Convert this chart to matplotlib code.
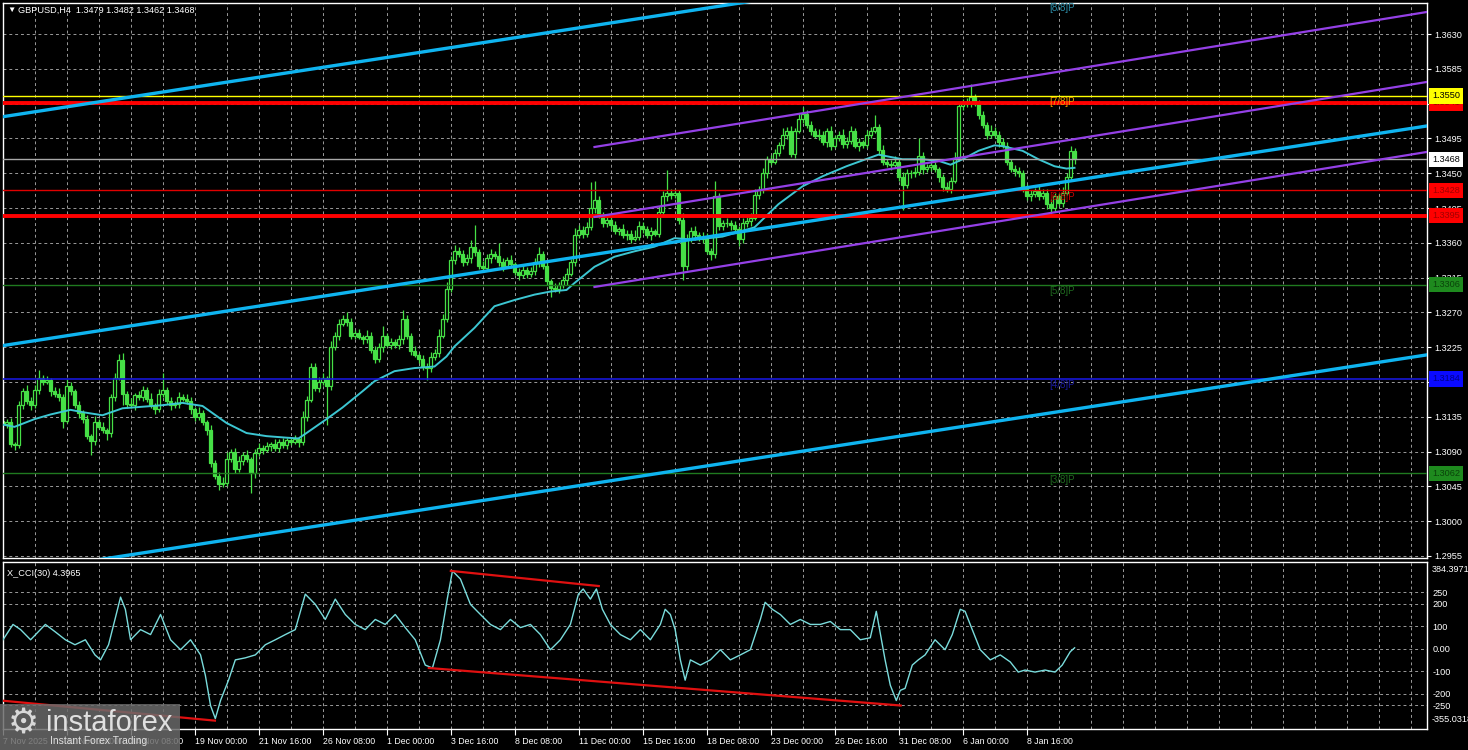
import matplotlib
matplotlib.use("Agg")
import matplotlib.pyplot as plt
import matplotlib.transforms as mtransforms
from matplotlib.patches import Rectangle
import numpy as np

plt.rcParams["font.family"] = ["Liberation Sans", "DejaVu Sans"]

# GBPUSD H4 candles: price = 1.3 + pips / 10000, open = previous close
first_open = 130
close_pips = [
    126, 128, 100, 98, 150, 168, 155, 150, 170, 185, 180, 182, 168, 165, 160, 130, 175, 168, 150, 140,
    132, 110, 104, 128, 122, 118, 114, 160, 185, 208, 165, 152, 150, 163, 160, 170, 158, 150, 145, 165,
    170, 155, 150, 152, 160, 158, 155, 145, 135, 140, 128, 118, 75, 58, 48, 50, 80, 90, 68, 78,
    85, 80, 62, 88, 95, 92, 97, 100, 95, 102, 98, 105, 103, 106, 102, 135, 157, 200, 172, 180,
    185, 175, 225, 240, 255, 262, 258, 240, 243, 238, 235, 240, 222, 210, 225, 240, 228, 232, 228, 235,
    262, 240, 220, 215, 210, 200, 198, 212, 218, 240, 262, 300, 338, 350, 345, 335, 340, 355, 348, 330,
    327, 340, 345, 343, 335, 330, 338, 332, 322, 318, 325, 320, 323, 335, 345, 330, 310, 302, 300, 305,
    312, 320, 335, 370, 377, 372, 380, 405, 415, 395, 385, 390, 383, 375, 378, 370, 372, 365, 368, 382,
    378, 370, 375, 372, 400, 420, 425, 422, 424, 390, 330, 365, 375, 370, 365, 368, 350, 345, 420, 382,
    385, 386, 383, 378, 365, 385, 388, 392, 422, 428, 450, 468, 465, 476, 486, 500, 505, 475, 505, 520,
    527, 512, 505, 498, 500, 490, 505, 485, 495, 500, 488, 492, 505, 485, 490, 487, 500, 505, 510, 480,
    465, 462, 460, 465, 445, 435, 450, 450, 452, 472, 455, 458, 460, 455, 445, 432, 430, 440, 470, 537,
    540, 542, 548, 540, 525, 512, 500, 505, 500, 490, 485, 465, 455, 453, 450, 430, 420, 423, 427, 420,
    425, 410, 405, 420, 412, 425, 445, 479, 468,
]
up_wick = [
    7, 4, 6, 3, 5, 4, 8, 5, 6, 10, 4, 6, 3, 5, 7, 4, 9, 5, 3, 6,
    4, 5, 3, 8, 4, 6, 3, 5, 6, 8, 10, 4, 7, 3, 6, 5, 4, 8, 3, 6,
    22, 4, 5, 3, 7, 4, 6, 5, 3, 8, 4, 3, 6, 4, 5, 7, 9, 4, 5, 6,
    4, 7, 3, 5, 6, 4, 5, 3, 6, 4, 5, 3, 4, 6, 3, 8, 5, 5, 4, 7,
    6, 3, 8, 5, 7, 4, 8, 5, 4, 6, 3, 7, 5, 4, 6, 12, 4, 5, 3, 6,
    11, 5, 4, 6, 3, 5, 4, 7, 5, 8, 6, 9, 5, 7, 4, 6, 5, 8, 28, 4,
    6, 5, 7, 4, 17, 5, 4, 6, 3, 5, 7, 4, 6, 5, 10, 4, 5, 3, 6, 4,
    5, 7, 4, 9, 6, 5, 7, 33, 25, 6, 5, 4, 7, 5, 3, 6, 4, 5, 8, 6,
    5, 4, 6, 3, 8, 7, 29, 5, 6, 4, 8, 6, 5, 7, 4, 6, 5, 3, 20, 5,
    4, 6, 3, 5, 4, 7, 5, 6, 8, 5, 7, 4, 6, 5, 4, 8, 5, 6, 4, 7,
    8, 5, 6, 4, 7, 5, 3, 6, 5, 4, 7, 5, 6, 4, 5, 3, 6, 5, 15, 4,
    6, 4, 5, 7, 4, 6, 5, 4, 6, 23, 5, 4, 6, 5, 3, 4, 6, 5, 7, 4,
    6, 5, 17, 4, 5, 6, 4, 7, 5, 4, 6, 5, 3, 6, 5, 4, 6, 5, 4, 6,
    5, 4, 6, 5, 4, 7, 5, 6, 3,
]
dn_wick = [
    3, 5, 4, 6, 3, 5, 4, 6, 3, 5, 4, 3, 6, 4, 5, 10, 3, 5, 4, 6,
    5, 4, 19, 5, 3, 4, 9, 5, 4, 3, 15, 5, 4, 6, 3, 5, 4, 3, 6, 4,
    5, 3, 6, 4, 5, 3, 4, 6, 5, 4, 3, 6, 5, 4, 8, 4, 5, 3, 6, 4,
    5, 4, 25, 6, 4, 5, 3, 6, 4, 5, 3, 4, 5, 3, 6, 4, 5, 3, 4, 5,
    4, 50, 5, 4, 6, 3, 5, 4, 5, 3, 6, 4, 5, 5, 4, 6, 3, 5, 4, 5,
    6, 4, 5, 3, 6, 4, 15, 5, 4, 6, 3, 5, 4, 6, 3, 5, 4, 6, 5, 4,
    5, 3, 6, 4, 5, 6, 3, 5, 4, 6, 3, 5, 4, 5, 6, 4, 5, 12, 4, 5,
    4, 6, 3, 5, 4, 6, 5, 4, 6, 3, 5, 4, 6, 3, 5, 4, 6, 5, 3, 4,
    5, 4, 6, 3, 5, 4, 6, 5, 4, 6, 18, 5, 4, 6, 3, 5, 4, 7, 5, 6,
    5, 4, 6, 3, 9, 5, 4, 6, 3, 5, 4, 6, 5, 3, 4, 5, 6, 4, 5, 3,
    5, 4, 6, 3, 5, 4, 6, 5, 3, 4, 6, 5, 4, 3, 6, 5, 4, 5, 3, 6,
    5, 4, 6, 3, 5, 32, 4, 6, 5, 4, 6, 3, 5, 4, 6, 5, 4, 5, 3, 4,
    5, 4, 6, 3, 5, 4, 6, 5, 4, 6, 3, 5, 4, 6, 5, 4, 5, 6, 4, 5,
    4, 6, 10, 5, 4, 6, 3, 5, 6,
]

# moving average, read at selected bars (pips)
ma_bars = [0, 3, 8, 12, 17, 20, 25, 30, 35, 40, 45, 50, 53, 56, 61, 66, 71, 74, 76, 81,
           85, 90, 93, 98, 103, 108, 111, 113, 118, 123, 128, 133, 137, 141, 143, 148, 153,
           158, 163, 168, 173, 180, 188, 194, 200, 205, 211, 219, 225, 230, 234, 237, 240,
           244, 248, 250, 255, 259, 263, 266, 268]
ma_pips = [125, 122, 132, 138, 144, 141, 137, 146, 148, 150, 153, 149, 138, 127, 114, 110, 108, 107, 114, 132,
           147, 168, 181, 194, 198, 200, 213, 226, 250, 278, 286, 293, 297, 299, 308, 329, 342,
           349, 355, 366, 364, 368, 380, 410, 433, 446, 459, 474, 468, 468, 466, 461, 468,
           479, 486, 485, 479, 468, 459, 456, 457]

# X_CCI(30)
cci_bars = [0, 2.5, 4.4, 6.9, 10.6, 13, 15.6, 18, 20.6, 23, 24.4, 26.4, 28, 29.4, 30.6, 31.9, 34.4,
            36.9, 39.4, 41.9, 44.4, 46.9, 49.4, 50.6, 51.9, 53.1, 54.4, 56.4, 58.1, 60.6, 63.1,
            65.6, 68.1, 70.6, 73.1, 75.6, 78.1, 80.6, 83.1, 85.6, 88.1, 90.6, 93.1, 95.6, 98.1,
            100.6, 103.1, 105.6, 107.4, 109.4, 111.1, 112.4, 114.4, 116.9, 119.4, 121.9, 124.4,
            126.9, 129.4, 131.9, 134.4, 136.9, 139.4, 141.9, 143.9, 145.1, 146.9, 148.4, 149.9,
            151.9, 154.4, 156.9, 159.4, 161.9, 164.4, 165.6, 166.9, 168.1, 169.4, 170.6, 171.9,
            174.4, 176.9, 179.4, 181.9, 184.4, 186.9, 189.4, 190.6, 192.4, 194.4, 196.9, 199.4,
            201.9, 204.4, 206.9, 209.4, 211.9, 214.4, 216.9, 218.4, 220.6, 221.9, 223.4, 224.4,
            225.6, 227.4, 228.9, 230.6, 233.1, 235.6, 237.4, 239.4, 240.6, 242.4, 244.4, 246.9,
            249.4, 251.9, 253.9, 255.6, 258.1, 260.6, 263.1, 264.9, 266.9, 268]
cci_vals = [40, 108, 85, 40, 108, 76, 40, 18, 40, -27, -49, 18, 130, 229, 175, 40, 85,
            63, 152, 40, -4, 40, -27, -117, -251, -309, -229, -139, -49, -40, -27,
            18, 40, 63, 85, 242, 197, 130, 220, 152, 108, 85, 130, 108, 152,
            94, 40, -72, -85, 40, 220, 345, 309, 197, 152, 108, 85,
            130, 94, 108, 63, -4, 40, 108, 242, 265, 220, 265, 175,
            108, 63, 40, 85, 40, 108, 175, 152, 85, -49, -139, -49,
            -72, -49, -4, -49, -27, -4, 130, 206, 175, 152, 108, 130,
            108, 108, 121, 85, 85, 40, 49, 166, -49, -161, -229, -184,
            -175, -72, -49, -27, 40, -4, 63, 175, 166, 85, -4, -49,
            -27, -58, -103, -94, -103, -94, -103, -72, -13, 4.3965]

# red trend lines on the CCI window: (bar, value) pairs
cci_trend = [[(112, 345), (149, 278)], [(106.5, -85), (224.5, -251)], [(-0.5, -229), (53, -318)]]

date_labels = ["7 Nov 2025", "11 Nov 16:00", "14 Nov 08:00", "19 Nov 00:00", "21 Nov 16:00",
               "26 Nov 08:00", "1 Dec 00:00", "3 Dec 16:00", "8 Dec 08:00", "11 Dec 00:00",
               "15 Dec 16:00", "18 Dec 08:00", "23 Dec 00:00", "26 Dec 16:00", "31 Dec 08:00",
               "6 Jan 00:00", "8 Jan 16:00"]

price_ticks = [1.2955, 1.3000, 1.3045, 1.3090, 1.3135, 1.3180, 1.3225, 1.3270, 1.3315,
               1.3360, 1.3405, 1.3450, 1.3495, 1.3540, 1.3585, 1.3630]
cci_ticks = [250, 200, 100, 0, -100, -200, -250]
cci_tick_text = ["250", "200", "100", "0.00", "-100", "-200", "-250"]
cci_min, cci_max = -355.0318, 384.3971

level_prices = [1.3541, 1.3550, 1.3468, 1.3428, 1.3395, 1.3306, 1.3184, 1.3062]
murrey_names = ["[8/8]P", "[7/8]P", "[6/8]P", "[5/8]P", "[4/8]P", "[3/8]P"]
murrey_prices = [1.3672, 1.3550, 1.3428, 1.3306, 1.3184, 1.3062]

# linear channels, endpoints in (bar, price)
chan_bars = [0, 356]
chan_mid = [1.3227, 1.3511]
chan_step = 0.0296
reg_bars = [148, 356]
reg_mid = [1.33934, 1.35679]
reg_step = 0.00905

# ---------------------------------------------------------------
W, H = 1468, 750
GREEN = "#46e046"
GRID = "#9a9a9a"
fig = plt.figure(figsize=(W / 100, H / 100), dpi=100, facecolor="black")
ax = fig.add_axes([3 / W, 1 - 558 / H, 1424 / W, 555 / H], facecolor="black")
ax2 = fig.add_axes([3 / W, 1 - 729 / H, 1424 / W, 167 / H], facecolor="black")

xlim = (0.125, 356.125)
for a in (ax, ax2):
    a.set_xlim(*xlim)
    for s in a.spines.values():
        s.set_color("white")
        s.set_linewidth(1)
    for gx in np.arange(0, xlim[1], 8):
        a.axvline(gx, color=GRID, lw=0.7, ls=(0, (3, 3)), zorder=0)

ax.set_ylim(1.29524, 1.36701)
ax2.set_ylim(cci_min, cci_max)

for p in price_ticks:
    ax.axhline(p, color=GRID, lw=0.7, ls=(0, (3, 3)), zorder=0)
for v in cci_ticks:
    ax2.axhline(v, color=GRID, lw=0.7, ls=(0, (3, 3)), zorder=0)

# candles
c = 1.3 + np.array(close_pips) / 1e4
o = np.r_[1.3 + first_open / 1e4, c[:-1]]
hi = np.maximum(o, c) + np.array(up_wick) / 1e4
lo = np.minimum(o, c) - np.array(dn_wick) / 1e4
x = np.arange(len(c))
ax.vlines(x, lo, hi, color=GREEN, lw=0.9, zorder=2)
bull = c >= o
bottom = np.minimum(o, c)
height = np.maximum(np.abs(c - o), 0.00003)
ax.bar(x[bull], height[bull], bottom=bottom[bull], width=0.62, color="black",
       edgecolor=GREEN, linewidth=0.9, zorder=2.2)
ax.bar(x[~bull], height[~bull], bottom=bottom[~bull], width=0.62, color=GREEN,
       edgecolor=GREEN, linewidth=0.9, zorder=2.2)

# moving average
ax.plot(ma_bars, 1.3 + np.array(ma_pips) / 1e4, color="#3cc6d2", lw=1.4, zorder=3)

# cyan channel
for k in (-1, 0, 1):
    ax.plot(chan_bars, np.array(chan_mid) + k * chan_step, color="#0fb4f0", lw=2.4, zorder=3.5)
# purple regression channel
for k in (-1, 0, 1):
    ax.plot(reg_bars, np.array(reg_mid) + k * reg_step, color="#9440e6", lw=1.6, zorder=3.4)

# horizontal levels
level_style = [("#ff0000", 2.8), ("#ffff00", 1.0), ("#a8a8a8", 1.0), ("#e00000", 1.0),
               ("#ff0000", 2.8), ("#1f7a1f", 1.0), ("#1818d8", 1.2), ("#1f7a1f", 1.0)]
for p, (col, lw) in zip(level_prices, level_style):
    ax.axhline(p, color=col, lw=lw, zorder=3.2)

murrey_colors = ["#2c8ea8", "#f0a000", "#c80000", "#1f6a1f", "#1a1aa0", "#1f6a1f"]
for name, p, col in zip(murrey_names, murrey_prices, murrey_colors):
    ax.text(265, p - 0.0002, name, color=col, fontsize=7, ha="center", va="top", zorder=4)

# price axis
ax.yaxis.tick_right()
ax.set_yticks(price_ticks)
ax.set_yticklabels([f"{p:.4f}" for p in price_ticks])
ax.tick_params(axis="y", colors="white", length=3, width=0.8, pad=2, labelsize=6.6)
ax.tick_params(axis="x", bottom=False, labelbottom=False)

trans = mtransforms.blended_transform_factory(ax.transAxes, ax.transData)
box_faces = ["#ff0000", "#ffff00", "#ffffff", "#ff0000", "#ff0000", "#1e8a1e", "#0a0aff", "#1e8a1e"]
box_texts = ["#a00000", "black", "black", "#a00000", "#a00000", "#0a420a", "#00008a", "#0a420a"]
for p, fc, tc in zip(level_prices, box_faces, box_texts):
    ax.text(1.0035, p, f"{p:.4f}", transform=trans, ha="left", va="center", fontsize=6.6,
            color=tc, clip_on=False, zorder=6,
            bbox=dict(boxstyle="square,pad=0.35", fc=fc, ec="none"))

# CCI window
ax2.plot(cci_bars, cci_vals, color="#7adcdc", lw=1.0, zorder=3)
for (b0, v0), (b1, v1) in cci_trend:
    ax2.plot([b0, b1], [v0, v1], color="#e01010", lw=1.6, zorder=3.5)
ax2.yaxis.tick_right()
ax2.set_yticks(cci_ticks)
ax2.set_yticklabels(cci_tick_text)
ax2.tick_params(axis="y", colors="white", length=0, pad=4, labelsize=6.6)
ax2.text(1.003, 0.985, f"{cci_max:.4f}", transform=ax2.transAxes, color="white",
         fontsize=6.6, ha="left", va="top", clip_on=False)
ax2.text(1.003, 0.03, f"{cci_min:.4f}", transform=ax2.transAxes, color="white",
         fontsize=6.6, ha="left", va="bottom", clip_on=False)
ax2.text(0.003, 0.96, f"X_CCI(30) {cci_vals[-1]:.4f}",
         transform=ax2.transAxes, color="white", fontsize=6.6, ha="left", va="top")

ax2.set_xticks(np.arange(len(date_labels)) * 16)
ax2.set_xticklabels(date_labels)
ax2.tick_params(axis="x", colors="white", length=4, width=0.8, pad=2, labelsize=6.3)
for lbl in ax2.get_xticklabels():
    lbl.set_ha("left")

# header
fig.text(7 / W, 1 - 10.5 / H, "\u25bc", color="white", fontsize=6, va="center", ha="left")
fig.text(18 / W, 1 - 10.5 / H, "GBPUSD,H4  1.3479 1.3482 1.3462 1.3468", color="white",
         fontsize=6.6, va="center", ha="left")

# watermark
fig.patches.append(Rectangle((0, 0), 180 / W, 46 / H, transform=fig.transFigure,
                             fc="#6a6a6a", ec="none", alpha=0.85, zorder=10))
fig.text(8 / W, 1 - 724 / H, "\u2699", color="#d8d8d8", fontsize=25, va="center",
         ha="left", family="DejaVu Sans", zorder=11)
fig.text(46 / W, 1 - 723 / H, "instaforex", color="#e0e0e0", fontsize=21, va="center",
         ha="left", zorder=11)
fig.text(50 / W, 1 - 741 / H, "Instant Forex Trading", color="#e0e0e0", fontsize=7.4,
         va="center", ha="left", zorder=11)

fig.savefig("out.png", dpi=100, facecolor="black")
